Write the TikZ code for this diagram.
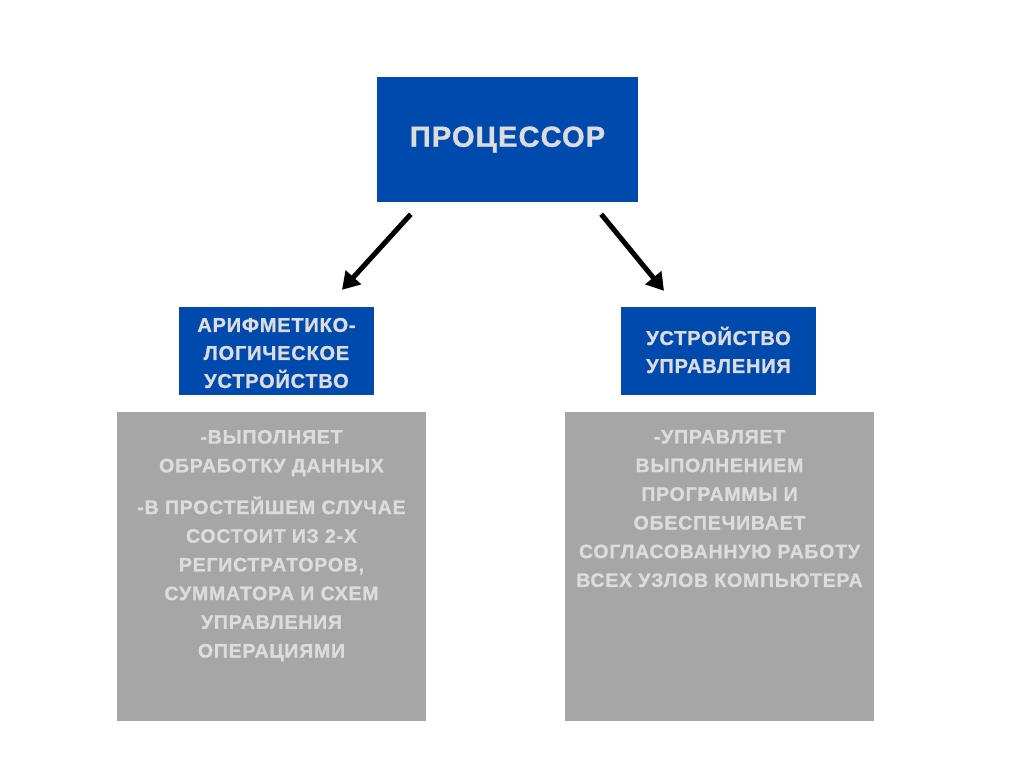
\documentclass[tikz,border=0pt]{standalone}
\usepackage{fontspec}
\setmainfont{Liberation Sans}[LetterSpace=4, BoldFeatures={FakeBold=1.2}]
\usetikzlibrary{arrows.meta,positioning}
\definecolor{boxblue}{HTML}{004AAD}
\definecolor{boxgray}{HTML}{A6A6A6}
\definecolor{txtgray}{HTML}{DCDCDC}
\tikzset{
  bluebox/.style={fill=boxblue, draw=none, inner sep=0pt},
  graybox/.style={fill=boxgray, draw=none, inner sep=0pt},
  headtxt/.style={text=txtgray, font=\fontsize{20}{28}\selectfont\bfseries, align=center, inner sep=0pt},
  bodytxt/.style={text=txtgray, font=\fontsize{19.5}{28.7}\selectfont\bfseries, align=center, inner sep=0pt},
  arr/.style={line width=5pt, -{Triangle[length=17pt,width=20pt]}, black}
}
\begin{document}
\begin{tikzpicture}[x=1pt,y=-1pt]
\useasboundingbox (0,0) rectangle (1024,768);
\fill[white] (0,0) rectangle (1024,768);
% boxes
\node[bluebox, minimum width=261pt, minimum height=125pt] (proc) at (507.5,139.5) {};
\node[text=txtgray, font=\fontsize{29}{34}\selectfont\bfseries, inner sep=0pt] (proctxt) at (proc.center) {ПРОЦЕССОР};
\node[bluebox, minimum width=195pt, minimum height=88pt] (alu) at (276.5,351) {};
\node[headtxt] (alutxt) at ([yshift=-2pt]alu.center) {АРИФМЕТИКО-\\ЛОГИЧЕСКОЕ\\УСТРОЙСТВО};
\node[bluebox, minimum width=195pt, minimum height=88pt] (cu) at (718.5,351) {};
\node[headtxt] (cutxt) at ([yshift=1pt]cu.center) {УСТРОЙСТВО\\УПРАВЛЕНИЯ};
\node[graybox, minimum width=309pt, minimum height=309pt] (aludesc) at (271.5,566.5) {};
\node[bodytxt, anchor=north] (aludesctxt) at ([yshift=-18pt]aludesc.north) {-ВЫПОЛНЯЕТ\\ОБРАБОТКУ ДАННЫХ\\[13pt]-В ПРОСТЕЙШЕМ СЛУЧАЕ\\СОСТОИТ ИЗ 2-Х\\РЕГИСТРАТОРОВ,\\СУММАТОРА И СХЕМ\\УПРАВЛЕНИЯ\\ОПЕРАЦИЯМИ};
\node[graybox, minimum width=309pt, minimum height=309pt] (cudesc) at (719.5,566.5) {};
\node[bodytxt, anchor=north] (cudesctxt) at ([yshift=-18pt]cudesc.north) {-УПРАВЛЯЕТ\\ВЫПОЛНЕНИЕМ\\ПРОГРАММЫ И\\ОБЕСПЕЧИВАЕТ\\СОГЛАСОВАННУЮ РАБОТУ\\ВСЕХ УЗЛОВ КОМПЬЮТЕРА};
% arrows
\draw[arr] ([shift={(34,12)}]proc.south west) -- ([shift={(65.5,-17)}]alu.north);
\draw[arr] ([shift={(-37,12)}]proc.south east) -- ([shift={(-54.5,-16)}]cu.north);
\end{tikzpicture}
\end{document}
